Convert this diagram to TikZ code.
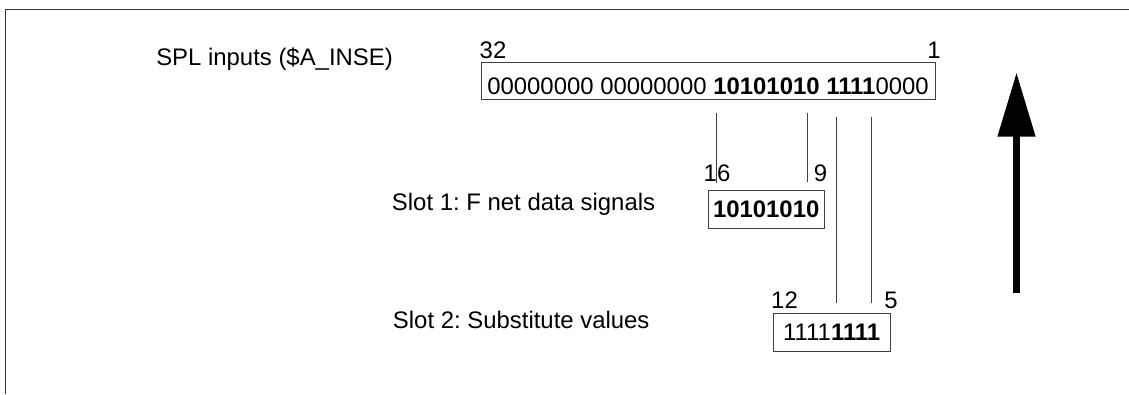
\documentclass[tikz,border=0pt]{standalone}
\usepackage{fontspec}
\setmainfont{Liberation Sans}
\usetikzlibrary{arrows.meta}
\frenchspacing

\begin{document}
\begin{tikzpicture}[x=0.025cm, y=-0.025cm,
    every node/.style={font=\fontsize{17pt}{20pt}\selectfont, inner sep=0pt},
    bitbox/.style={draw=black!75, line width=0.6pt, minimum height=0.95cm},
    bitline/.style={black!75, line width=0.6pt}]
    \useasboundingbox (0,0) rectangle (1129,394);

    % frame
    \draw[black!80, line width=0.9pt] (1129,9.3) -- (5.7,9.3) -- (5.7,394);

    % SPL input word
    \node[anchor=base west] (splname) at (156,65) {SPL inputs (\$A\_INSE)};
    \node[bitbox, minimum width=11.35cm, minimum height=0.92cm, text height=19pt, text depth=0pt] (inse) at (708,80.7)
        {00000000 00000000 \textbf{10101010 1111}0000};
    \node[anchor=base] (b32) at (493,58.3) {32};
    \node[anchor=base] (b1) at (934,58.3) {1};

    % slot 1
    \node[anchor=base west] (slot1name) at (391.7,210) {Slot 1: F net data signals};
    \node[bitbox, minimum width=2.89cm, minimum height=0.96cm] (slot1) at (766.2,209.2) {\textbf{10101010}};
    \node[anchor=base] (b16) at (717,181.7) {16};
    \node[anchor=base] (b9) at (820.5,181.7) {9};

    % slot 2
    \node[anchor=base west] (slot2name) at (392.7,328.3) {Slot 2: Substitute values};
    \node[bitbox, minimum width=2.92cm, minimum height=0.94cm] (slot2) at (831.7,332.2) {1111\textbf{1111}};
    \node[anchor=base] (b12) at (784.5,308) {12};
    \node[anchor=base] (b5) at (891,308) {5};

    % bit lines
    \coordinate (t16) at (716.7,112.7);
    \coordinate (e16) at (716.7,183);
    \coordinate (t9) at (807,112.7);
    \coordinate (e9) at (807,181.7);
    \coordinate (t12) at (836,117.3);
    \coordinate (e12) at (836,303);
    \coordinate (t5) at (871,117.3);
    \coordinate (e5) at (871,303);
    \draw[bitline] (t16) -- (e16);
    \draw[bitline] (t9) -- (e9);
    \draw[bitline] (t12) -- (e12);
    \draw[bitline] (t5) -- (e5);

    % direction arrow
    \coordinate (arrbot) at (1016.5,293);
    \coordinate (arrtop) at (1016.5,72.7);
    \draw[line width=4.3pt, -{Triangle[length=45.5pt,width=26pt]}] (arrbot) -- (arrtop);
\end{tikzpicture}
\end{document}
